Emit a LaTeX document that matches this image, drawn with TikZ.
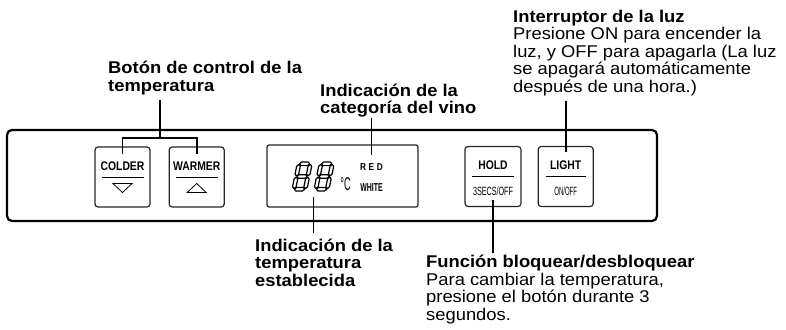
\documentclass[tikz,border=0pt]{standalone}
\usepackage{fontspec}
\setmainfont{Liberation Sans}
\newfontfamily\calloutfont[FakeStretch=1.08]{Liberation Sans}
\newfontfamily\keyfont[FakeStretch=0.83]{Liberation Sans}
\newfontfamily\subfont[FakeStretch=0.6]{Liberation Sans}
\newfontfamily\tightfont[FakeStretch=0.5]{Liberation Sans}
\usetikzlibrary{positioning,calc}

\newcommand{\seghor}[3]{\filldraw[lcdseg] (#1+0.6,#3) -- (#1+2.4,#3-1.8) -- (#2-2.4,#3-1.8) -- (#2-0.6,#3) -- (#2-2.4,#3+1.8) -- (#1+2.4,#3+1.8) -- cycle;}
\newcommand{\segver}[3]{\filldraw[lcdseg] (#1,#2+0.6) -- (#1+1.8,#2+2.4) -- (#1+1.8,#3-2.4) -- (#1,#3-0.6) -- (#1-1.8,#3-2.4) -- (#1-1.8,#2+2.4) -- cycle;}
\newcommand{\lcdeight}{\seghor{1.8}{13.2}{1.8}\seghor{1.8}{13.2}{14.5}\seghor{1.8}{13.2}{27.2}\segver{1.8}{1.8}{14.5}\segver{13.2}{1.8}{14.5}\segver{1.8}{14.5}{27.2}\segver{13.2}{14.5}{27.2}}

\begin{document}
\begin{tikzpicture}[x=1pt, y=-1pt,
  callout/.style={anchor=base west, align=left, inner sep=0pt, font={\calloutfont\fontsize{17}{17.5}\selectfont}},
  callhead/.style={callout, font={\calloutfont\bfseries\fontsize{17}{17.5}\selectfont}},
  leader/.style={line width=1.6pt},
  keybox/.style={draw=black!85, line width=1.2pt, rounded corners=3pt, minimum width=55pt, minimum height=60pt, inner sep=0pt},
  keylabel/.style={anchor=base, inner sep=0pt, font={\keyfont\bfseries\fontsize{12.5}{12.5}\selectfont}},
  keysub/.style={anchor=base, inner sep=0pt, font={\subfont\fontsize{12}{12}\selectfont}},
  lcdseg/.style={draw=black, fill=white, line width=1.2pt, line join=round}]
  \useasboundingbox (0,0) rectangle (786,329);
  \node[draw, line width=2.2pt, rounded corners=5pt, minimum width=650pt, minimum height=91pt] (panel) at (332,175.5) {};
  \node[keybox] (colder) at (122.5,177) {};
  \node[keybox, right=18pt of colder] (warmer) {};
  \node[draw=black!85, line width=1.2pt, rounded corners=2pt, minimum width=151pt, minimum height=62pt] (lcd) at (342.5,176) {};
  \node[keybox, minimum width=56pt] (hold) at (493,176.5) {};
  \node[keybox, right=16pt of hold] (light) {};

  \node[keylabel] (coldertxt) at ($(colder.center)+(0,-6.3)$) {COLDER};
  \node[keylabel] (warmertxt) at ($(warmer.center)+(0,-6.3)$) {WARMER};
  \node[keylabel] (holdtxt) at ($(hold.center)+(0,-7)$) {HOLD};
  \node[keylabel] (lighttxt) at ($(light.center)+(0,-7)$) {LIGHT};
  \node[keysub] (holdsub) at ($(hold.center)+(0,19.2)$) {3SECS/OFF};
  \node[keysub, font={\tightfont\fontsize{12}{12}\selectfont}] (lightsub) at ($(light.center)+(0,19.2)$) {ON/OFF};
  \foreach \k in {colder,warmer,hold}
    \draw[line width=1pt] ($(\k.center)+(-21,0)$) -- ($(\k.center)+(21,0)$);
  \draw[line width=1.8pt] ($(light.center)+(-20,0)$) -- ($(light.center)+(20,0)$);
  \draw[line width=0.8pt, line join=miter] ($(colder.center)+(-9.5,6.5)$) -- ++(19,0) -- ++(-9.5,9) -- cycle;
  \draw[line width=0.8pt, line join=miter] ($(warmer.center)+(-9.5,15.5)$) -- ++(19,0) -- ++(-9.5,-9) -- cycle;

  \node[inner sep=0pt, minimum width=44pt, minimum height=29pt] (digits) at (313.5,176.5) {};
  \foreach \dx in {297.5,319.5} {
    \begin{scope}[shift={(\dx,162)}, xslant=0.2]
      \lcdeight
    \end{scope}
  }
  \node[anchor=base, inner sep=0pt, font={\tightfont\fontsize{18.5}{18.5}\selectfont}] (degc) at (345.5,190.5) {°C};
  \node[anchor=base, inner sep=0pt, font={\keyfont\bfseries\fontsize{10}{10}\selectfont}] (red) at (371.5,170.5) {R\hspace{2.5pt}E\hspace{2.5pt}D};
  \node[anchor=base, inner sep=0pt, font={\subfont\bfseries\fontsize{11.5}{11.5}\selectfont}] (white) at (371.5,191) {WHITE};

  \node[callhead] (tempctl) at (108,91) {Botón de control de la\\temperatura};
  \node[callhead] (catinfo) at (320,113.5) {Indicación de la\\categoría del vino};
  \node[callout] (lightinfo) at (513,92.3) {\textbf{Interruptor de la luz}\\Presione ON para encender la\\luz, y OFF para apagarla (La luz\\se apagará automáticamente\\después de una hora.)};
  \node[callhead] (tempinfo) at (255,286.2) {Indicación de la\\temperatura\\establecida};
  \node[callout] (holdinfo) at (426,320) {\textbf{Función bloquear/desbloquear}\\Para cambiar la temperatura,\\presione el botón durante 3\\segundos.};

  \coordinate (split) at (160,138);
  \draw[leader, shorten <=5pt] (tempctl.south -| split) -- (split);
  \draw[leader] ($(colder.north)+(0,8)$) |- (split) -| ($(warmer.north)+(0,8)$);
  \draw[leader, shorten <=1pt] (catinfo.south -| red.north) -- ($(red.north)+(0,-8)$);
  \draw[leader, shorten <=4.5pt] (lightinfo.south -| light.north) -- ($(light.north)+(0,6.5)$);
  \draw[leader, shorten >=5.8pt] ($(digits.south)+(0,6)$) -- (digits.south |- tempinfo.north);
  \draw[leader, shorten >=1.5pt] ($(hold.south)+(0,-7)$) -- (hold.south |- holdinfo.north);
\end{tikzpicture}
\end{document}
